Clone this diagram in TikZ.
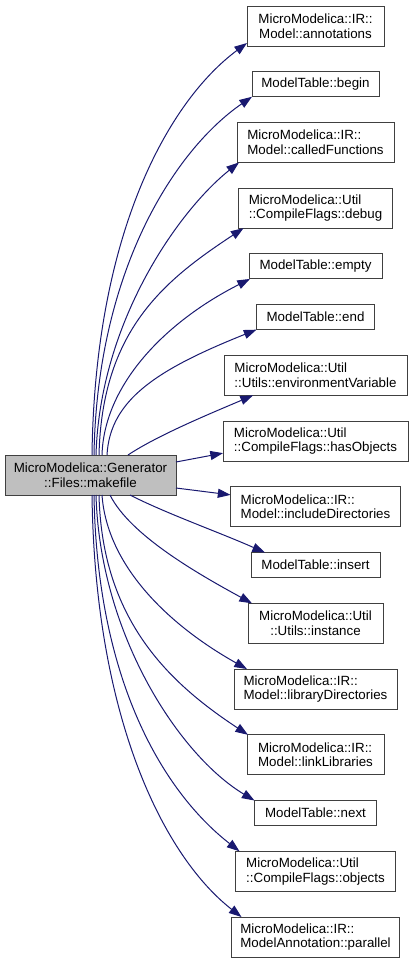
\documentclass[tikz,border=0pt]{standalone}
\usepackage{fontspec}
\setmainfont{Liberation Sans}
\usetikzlibrary{arrows.meta}
\usetikzlibrary{calc,positioning}
\definecolor{callblue}{HTML}{191970}
\definecolor{boxedge}{HTML}{404040}
\definecolor{curgray}{HTML}{BFBFBF}
\tikzstyle{fnbox} = [rectangle,draw=boxedge,line width=0.75pt,inner sep=0pt,outer sep=0pt,align=left,font=\fontsize{10}{11}\selectfont]
\tikzstyle{twoline} = [minimum height=30pt]
\tikzstyle{oneline} = [minimum height=18.75pt]
\tikzstyle{curfn} = [fnbox,twoline,fill=curgray,align=center]
\tikzstyle{callarr} = [draw=callblue,line width=0.75pt,-{Triangle[length=9.5pt,width=6.8pt]}]

\begin{document}
\begin{tikzpicture}[x=0.75pt,y=-0.75pt,node distance=19.3pt]
\useasboundingbox (0,0) rectangle (413,964);

\node (makefile) [curfn,minimum width=128.25pt] at (90.5,475) {MicroModelica::Generator\\::Files::makefile};

\node (annot) [fnbox,twoline,align=center,minimum width=102.75pt] at (315.5,26) {MicroModelica::IR::\\Model::annotations};
\node (begin) [fnbox,oneline,minimum width=95.25pt,below=of annot] {ModelTable::begin};
\node (called) [fnbox,twoline,minimum width=117.75pt,below=of begin] {MicroModelica::IR::\\Model::calledFunctions};
\node (debug) [fnbox,twoline,minimum width=115.5pt,below=of called] {MicroModelica::Util\\::CompileFlags::debug};
\node (empty) [fnbox,oneline,minimum width=99.75pt,below=of debug] {ModelTable::empty};
\node (end) [fnbox,oneline,minimum width=88.5pt,below=of empty] {ModelTable::end};
\node (envvar) [fnbox,twoline,minimum width=137.25pt,below=of end] {MicroModelica::Util\\::Utils::environmentVariable};
\node (hasobj) [fnbox,twoline,minimum width=138.75pt,below=of envvar] {MicroModelica::Util\\::CompileFlags::hasObjects};
\node (incdir) [fnbox,twoline,minimum width=127.5pt,below=of hasobj] {MicroModelica::IR::\\Model::includeDirectories};
\node (insert) [fnbox,oneline,minimum width=96.75pt,below=of incdir] {ModelTable::insert};
\node (instance) [fnbox,twoline,align=center,minimum width=101.25pt,below=of insert] {MicroModelica::Util\\::Utils::instance};
\node (libdir) [fnbox,twoline,minimum width=122.25pt,below=of instance] {MicroModelica::IR::\\Model::libraryDirectories};
\node (linklib) [fnbox,twoline,minimum width=102.75pt,below=of libdir] {MicroModelica::IR::\\Model::linkLibraries};
\node (next) [fnbox,oneline,minimum width=91.5pt,below=of linklib] {ModelTable::next};
\node (objects) [fnbox,twoline,minimum width=120pt,below=of next] {MicroModelica::Util\\::CompileFlags::objects};
\node (parallel) [fnbox,twoline,minimum width=126pt,below=of objects] {MicroModelica::IR::\\ModelAnnotation::parallel};

% calls leaving the top
\draw[callarr] ($(makefile.north west)+(87,0)$) .. controls +(3,-225) and +(-77,57) .. ($(annot.south west)+(0,-3)$);
\draw[callarr] ($(makefile.north west)+(89,0)$) .. controls +(3,-185) and +(-77,53) .. (begin.south west);
\draw[callarr] ($(makefile.north west)+(91,0)$) .. controls +(4,-135) and +(-59,47) .. ($(called.south west)+(2,0)$);
\draw[callarr] ($(makefile.north west)+(94,0)$) .. controls +(3,-125) and +(-79,52) .. ($(debug.south west)+(5,0)$);
\draw[callarr] ($(makefile.north west)+(97,0)$) .. controls +(2,-70) and +(-85,43) .. ($(empty.south west)+(1,0)$);
\draw[callarr] ($(makefile.north west)+(102,0)$) .. controls +(3,-55) and +(-100,40) .. (end.south west);
\draw[callarr] ($(makefile.north west)+(123,0)$) .. controls +(30,-20) and +(-40,17) .. ($(envvar.south west)+(29,0)$);

% straight ones
\draw[callarr] ($(makefile.east)+(0,-13)$) -- ($(hasobj.south west)+(0,-8)$);
\draw[callarr] ($(makefile.east)+(0,13)$) -- ($(incdir.north west)+(0,8)$);

% calls leaving the bottom
\draw[callarr] ($(makefile.south west)+(125,0)$) .. controls +(35,18) and +(-45,-20) .. ($(insert.north west)+(14,0)$);
\draw[callarr] ($(makefile.south west)+(105,0)$) .. controls +(20,40) and +(-55,-30) .. ($(instance.north west)+(4,0)$);
\draw[callarr] ($(makefile.south west)+(97,0)$) .. controls +(5,70) and +(-80,-45) .. ($(libdir.north west)+(13,0)$);
\draw[callarr] ($(makefile.south west)+(94,0)$) .. controls +(3,125) and +(-79,-52) .. ($(linklib.north west)+(1,0)$);
\draw[callarr] ($(makefile.south west)+(91,0)$) .. controls +(4,140) and +(-75,-45) .. (next.north west);
\draw[callarr] ($(makefile.south west)+(89,0)$) .. controls +(3,185) and +(-77,-60) .. ($(objects.north west)+(4,0)$);
\draw[callarr] ($(makefile.south west)+(87,0)$) .. controls +(3,225) and +(-77,-60) .. ($(parallel.north west)+(10,0)$);

\end{tikzpicture}
\end{document}
